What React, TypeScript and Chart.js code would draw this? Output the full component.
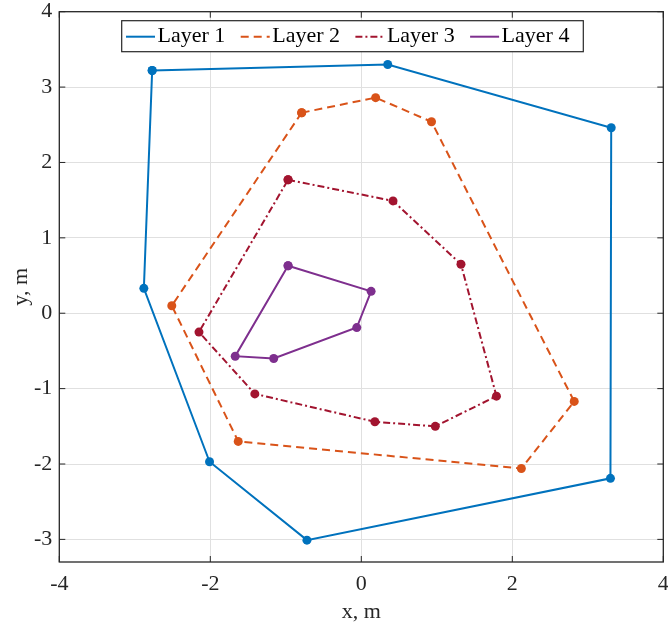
import React, { useEffect, useRef } from 'react';
import { Chart, registerables } from 'chart.js';

Chart.register(...registerables);

// ---- data ----
const seriesNames = ['Layer 1', 'Layer 2', 'Layer 3', 'Layer 4'];
const layer1X = [-2.77, 0.35, 3.31, 3.30, -0.72, -2.01, -2.88];
const layer1Y = [3.22, 3.30, 2.46, -2.19, -3.01, -1.97, 0.33];
const layer2X = [-0.79, 0.19, 0.93, 2.82, 2.12, -1.63, -2.51];
const layer2Y = [2.66, 2.86, 2.54, -1.17, -2.06, -1.70, 0.10];
const layer3X = [-0.97, 0.42, 1.32, 1.79, 0.98, 0.18, -1.41, -2.15];
const layer3Y = [1.77, 1.49, 0.65, -1.10, -1.50, -1.44, -1.07, -0.25];
const layer4X = [-0.97, 0.13, -0.06, -1.16, -1.67];
const layer4Y = [0.63, 0.29, -0.19, -0.60, -0.57];
const xTicks = [-4, -2, 0, 2, 4];
const yTicks = [-3, -2, -1, 0, 1, 2, 3, 4];
const xRange = [-4, 4];
const yRange = [-3.3, 4];

// ---- styles ----
const colors = ['#0072BD', '#D95319', '#A2142F', '#7E2F8E'];
const dashes: number[][] = [[], [8, 5], [7, 3, 2, 3], []];
const FONT = "'Liberation Serif', 'Times New Roman', serif";
const AXIS_COLOR = '#262626';
const GRID_COLOR = '#e0e0e0';

function closed(xs: number[], ys: number[]) {
  const pts = xs.map((x, i) => ({ x, y: ys[i] }));
  pts.push({ ...pts[0] });
  return pts;
}

const boxPlugin = {
  id: 'matlabBox',
  afterDatasetsDraw(chart: any) {
    const { ctx, chartArea: a, scales } = chart;
    ctx.save();
    // inward ticks
    ctx.strokeStyle = AXIS_COLOR;
    ctx.lineWidth = 1;
    ctx.setLineDash([]);
    const tl = 6;
    ctx.beginPath();
    scales.x.ticks.forEach((t: any) => {
      const px = scales.x.getPixelForValue(t.value);
      ctx.moveTo(px, a.bottom);
      ctx.lineTo(px, a.bottom - tl);
      ctx.moveTo(px, a.top);
      ctx.lineTo(px, a.top + tl);
    });
    scales.y.ticks.forEach((t: any) => {
      const py = scales.y.getPixelForValue(t.value);
      ctx.moveTo(a.left, py);
      ctx.lineTo(a.left + tl, py);
      ctx.moveTo(a.right, py);
      ctx.lineTo(a.right - tl, py);
    });
    ctx.stroke();
    // box
    ctx.lineWidth = 1.3;
    ctx.strokeRect(a.left, a.top, a.right - a.left, a.bottom - a.top);

    // legend
    const L = 121.7, T = 20.7, R = 583.3, B = 51.7;
    ctx.fillStyle = '#ffffff';
    ctx.fillRect(L, T, R - L, B - T);
    ctx.lineWidth = 1.2;
    ctx.strokeStyle = AXIS_COLOR;
    ctx.strokeRect(L, T, R - L, B - T);
    ctx.font = `22px ${FONT}`;
    ctx.textBaseline = 'alphabetic';
    ctx.textAlign = 'left';
    chart.data.datasets.forEach((ds: any, i: number) => {
      const sx = 126 + i * 114.7;
      ctx.beginPath();
      ctx.strokeStyle = ds.borderColor;
      ctx.lineWidth = 2;
      ctx.setLineDash(ds.borderDash || []);
      ctx.moveTo(sx, 36.7);
      ctx.lineTo(sx + 29, 36.7);
      ctx.stroke();
      ctx.setLineDash([]);
      ctx.fillStyle = '#000000';
      ctx.fillText(ds.label, sx + 31.5, 42);
    });
    ctx.restore();
  },
};

export default function App() {
  const canvasRef = useRef<HTMLCanvasElement | null>(null);

  useEffect(() => {
    const canvas = canvasRef.current;
    if (!canvas) return;
    const xs = [layer1X, layer2X, layer3X, layer4X];
    const ys = [layer1Y, layer2Y, layer3Y, layer4Y];
    const chart = new Chart(canvas, {
      type: 'scatter',
      data: {
        datasets: seriesNames.map((name, i) => ({
          label: name,
          data: closed(xs[i], ys[i]),
          showLine: true,
          borderColor: colors[i],
          backgroundColor: colors[i],
          borderWidth: 2,
          borderDash: dashes[i],
          pointRadius: 4.5,
          pointBorderWidth: 0,
          pointBackgroundColor: colors[i],
          tension: 0,
          order: seriesNames.length - i,
        })),
      },
      options: {
        animation: false,
        responsive: true,
        maintainAspectRatio: false,
        layout: { padding: { top: 11.7, right: 4.7, left: 0, bottom: 0 } },
        plugins: {
          legend: { display: false },
          tooltip: { enabled: false },
        },
        scales: {
          x: {
            type: 'linear',
            min: xRange[0],
            max: xRange[1],
            afterBuildTicks: (s: any) => {
              s.ticks = xTicks.map((v) => ({ value: v }));
            },
            afterFit: (s: any) => {
              s.height = 66;
              s.paddingLeft = 0;
              s.paddingRight = 0;
            },
            grid: { color: GRID_COLOR, lineWidth: 1, drawTicks: false },
            border: { display: false },
            ticks: {
              padding: 9,
              color: AXIS_COLOR,
              font: { family: FONT, size: 22 },
              callback: (v: any) => String(v),
            },
            title: {
              display: true,
              text: 'x, m',
              color: AXIS_COLOR,
              font: { family: FONT, size: 22, lineHeight: 1.2 },
              padding: { top: 0, bottom: 3 },
            },
          },
          y: {
            type: 'linear',
            min: yRange[0],
            max: yRange[1],
            afterBuildTicks: (s: any) => {
              s.ticks = yTicks.map((v) => ({ value: v }));
            },
            afterFit: (s: any) => {
              s.width = 59.3;
              s.paddingTop = 0;
              s.paddingBottom = 0;
            },
            grid: { color: GRID_COLOR, lineWidth: 1, drawTicks: false },
            border: { display: false },
            ticks: {
              padding: 7,
              color: AXIS_COLOR,
              font: { family: FONT, size: 22 },
              callback: (v: any) => String(v),
            },
            title: {
              display: true,
              text: 'y, m',
              color: AXIS_COLOR,
              font: { family: FONT, size: 22, lineHeight: 1.2 },
              padding: { top: 8, bottom: 0 },
            },
          },
        },
      },
      plugins: [boxPlugin],
    });
    return () => chart.destroy();
  }, []);

  return (
    <div style={{ position: 'fixed', left: 0, top: 0, width: 668, height: 628, background: '#ffffff' }}>
      <canvas ref={canvasRef} />
    </div>
  );
}
